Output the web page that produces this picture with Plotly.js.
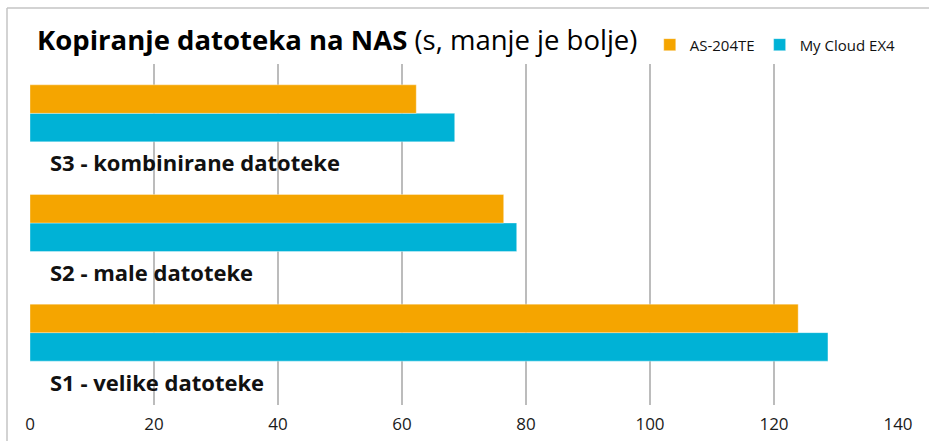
<!DOCTYPE html>
<html>
<head>
<meta charset="utf-8">
<script src="https://cdn.plot.ly/plotly-3.0.1.min.js"></script>
<style>
html,body{margin:0;padding:0;background:#fff;}
#chart{width:929px;height:441px;}
</style>
</head>
<body>
<div id="chart"></div>
<script>
// Data
const categories = ['S1 - velike datoteke', 'S2 - male datoteke', 'S3 - kombinirane datoteke'];
const seriesNames = ['AS-204TE', 'My Cloud EX4'];
const asValues = [123.9, 76.4, 62.3];
const myCloudValues = [128.7, 78.5, 68.5];
const xTicks = [0, 20, 40, 60, 80, 100, 120, 140];

const FONT = '"Open Sans", "Noto Sans", sans-serif';
const ORANGE = '#F5A500';
const BLUE = '#00B2D6';

const traces = [
  {
    type: 'bar', orientation: 'h', name: seriesNames[1],
    y: categories, x: myCloudValues,
    marker: {color: BLUE, line: {color: 'rgba(255,255,255,0.35)', width: 1}},
    legendrank: 2, hoverinfo: 'x+name'
  },
  {
    type: 'bar', orientation: 'h', name: seriesNames[0],
    y: categories, x: asValues,
    marker: {color: ORANGE, line: {color: 'rgba(255,255,255,0.35)', width: 1}},
    legendrank: 1, hoverinfo: 'x+name'
  }
];

const annotations = categories.map(c => ({
  xref: 'x', yref: 'y', x: 0, y: c,
  text: '<b>' + c + '</b>',
  showarrow: false, xanchor: 'left', yanchor: 'middle',
  xshift: 18, yshift: -49,
  font: {family: FONT, size: 22, color: '#111'}
}));

const layout = {
  width: 929, height: 441,
  paper_bgcolor: '#fff', plot_bgcolor: '#fff',
  margin: {l: 30, r: 31, t: 64, b: 36, pad: 0},
  barmode: 'group', bargap: 0.48, bargroupgap: 0,
  font: {family: FONT, color: '#1a1a1a'},
  title: {
    text: '<b>Kopiranje datoteka na NAS</b> (s, manje je bolje)',
    font: {family: FONT, size: 27.5, color: '#000'},
    xref: 'container', yref: 'container',
    x: 37/929, xanchor: 'left', y: 1 - 40/441, yanchor: 'middle'
  },
  showlegend: true,
  legend: {
    orientation: 'h', x: 0.714, xanchor: 'left', y: 1.056, yanchor: 'middle',
    font: {family: FONT, size: 15, color: '#111'},
    bgcolor: 'rgba(0,0,0,0)', traceorder: 'normal'
  },
  xaxis: {
    range: [0, 140], tickvals: xTicks, ticktext: xTicks.map(String),
    showgrid: true, gridcolor: '#bcbcbc', gridwidth: 1.5,
    zeroline: false, showline: false,
    ticks: 'outside', ticklen: 4, tickcolor: 'rgba(0,0,0,0)',
    tickfont: {family: FONT, size: 17, color: '#1a1a1a'},
    fixedrange: true
  },
  yaxis: {
    type: 'category', categoryorder: 'array', categoryarray: categories,
    range: [-0.66, 2.45],
    showticklabels: false, showgrid: false, zeroline: false, showline: false,
    ticks: '', fixedrange: true
  },
  annotations: annotations,
  shapes: [
    {type: 'line', xref: 'paper', yref: 'paper', x0: -23/868, x1: 900/868, y0: 397/341, y1: 397/341,
     line: {color: '#c4c4c4', width: 1.5}},
    {type: 'line', xref: 'paper', yref: 'paper', x0: -23/868, x1: -23/868, y0: 397/341, y1: -40/341,
     line: {color: '#c4c4c4', width: 1.5}}
  ]
};

Plotly.newPlot('chart', traces, layout, {displayModeBar: false, staticPlot: true});
</script>
</body>
</html>
